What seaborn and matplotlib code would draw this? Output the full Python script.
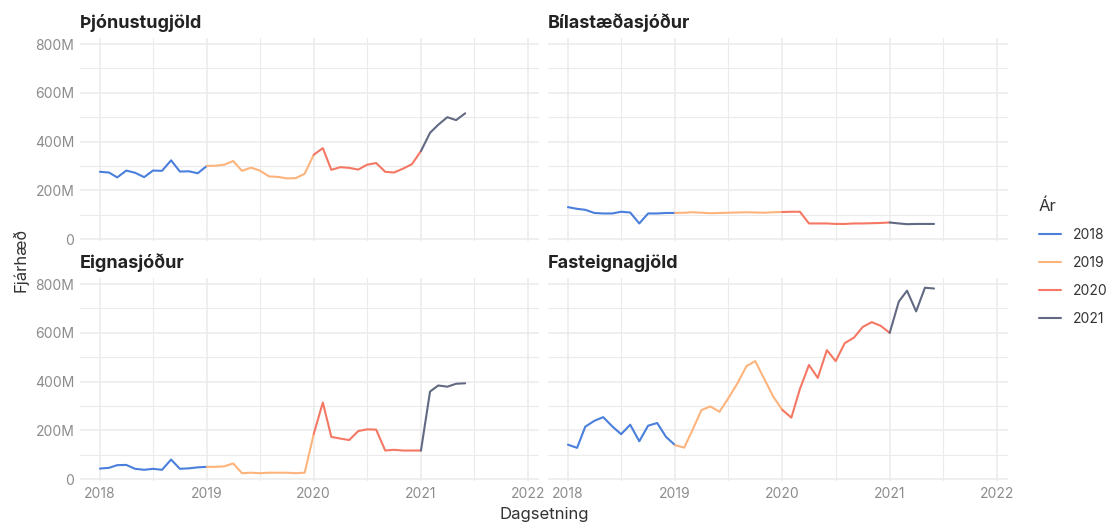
import matplotlib
matplotlib.use("Agg")
import matplotlib.pyplot as plt
import matplotlib.dates as mdates
from matplotlib.ticker import FuncFormatter, MultipleLocator
from matplotlib.lines import Line2D
import seaborn as sns
import pandas as pd
import numpy as np

# ---------------- data (millions ISK) ----------------
months = pd.date_range("2018-01-01", "2021-06-01", freq="MS")

thjonustugjold = [276, 273, 253, 281, 272, 254, 281, 280, 323, 277, 278, 270,
                  300, 301, 305, 320, 280, 293, 281, 257, 255, 249, 250, 268,
                  346, 373, 284, 295, 292, 285, 305, 312, 276, 273, 289, 307,
                  361, 436, 469, 500, 488, 516]
bilastaedasjodur = [131, 124, 120, 107, 105, 105, 112, 109, 64, 105, 105, 107,
                    107, 108, 110, 108, 106, 107, 108, 109, 110, 109, 108, 110,
                    111, 112, 112, 64, 64, 64, 62, 62, 64, 64, 65, 66,
                    68, 64, 61, 62, 62, 62]
eignasjodur = [43, 46, 57, 58, 42, 38, 42, 38, 80, 42, 44, 48,
               50, 50, 52, 64, 24, 26, 24, 26, 26, 26, 24, 26,
               185, 314, 173, 166, 160, 197, 204, 203, 117, 120, 117, 117,
               117, 359, 384, 379, 391, 393]
fasteignagjold = [141, 128, 215, 239, 254, 216, 184, 223, 155, 219, 230, 173,
                  139, 129, 201, 283, 298, 276, 331, 392, 463, 484, 410, 339,
                  284, 252, 369, 468, 415, 529, 484, 558, 580, 624, 644, 629,
                  600, 728, 773, 688, 785, 782]

categories = ["Þjónustugjöld", "Bílastæðasjóður", "Eignasjóður", "Fasteignagjöld"]
series = [thjonustugjold, bilastaedasjodur, eignasjodur, fasteignagjold]
years = [2018, 2019, 2020, 2021]
colors = ["#4A7FDB", "#FDB47C", "#F47864", "#626983"]

# Build long table; each year's segment also carries January of the next year
rows = []
for cat, vals in zip(categories, series):
    for d, v in zip(months, vals):
        rows.append((cat, d, v, d.year))
        if d.month == 1 and d.year - 1 in years:
            rows.append((cat, d, v, d.year - 1))
df = pd.DataFrame(rows, columns=["Flokkur", "Dagsetning", "Fjárhæð", "Ár"])
df["Ár"] = df["Ár"].astype(str)

# ---------------- style ----------------
sns.set_theme(style="white")
plt.rcParams["font.family"] = ["Inter", "DejaVu Sans"]

W, H = 1108, 525
fig = plt.figure(figsize=(W / 100, H / 100), dpi=100)

def box(x0, y0, x1, y1):
    return [x0 / W, 1 - y1 / H, (x1 - x0) / W, (y1 - y0) / H]

boxes = [box(80, 38, 539, 241), box(548, 38, 1008, 241),
         box(80, 278, 539, 481), box(548, 278, 1008, 481)]

palette = {str(y): c for y, c in zip(years, colors)}
grid_c = "#EBEBEB"
tick_c = "#8C8C8C"
xmin = pd.Timestamp("2018-01-01") - pd.Timedelta(days=68)
xmax = pd.Timestamp("2022-01-01") + pd.Timedelta(days=38)

for i, (cat, b) in enumerate(zip(categories, boxes)):
    ax = fig.add_axes(b)
    sub = df[df["Flokkur"] == cat]
    sns.lineplot(data=sub, x="Dagsetning", y="Fjárhæð", hue="Ár",
                 palette=palette, estimator=None, linewidth=1.5,
                 ax=ax, legend=False)
    ax.set_xlim(xmin, xmax)
    ax.set_ylim(-8, 825)
    ax.yaxis.set_major_locator(MultipleLocator(200))
    ax.yaxis.set_minor_locator(MultipleLocator(100))
    ax.yaxis.set_major_formatter(FuncFormatter(lambda v, p: "0" if v == 0 else f"{int(v)}M"))
    ax.xaxis.set_major_locator(mdates.YearLocator())
    ax.xaxis.set_minor_locator(mdates.MonthLocator(bymonth=7))
    ax.xaxis.set_major_formatter(mdates.DateFormatter("%Y"))
    ax.grid(which="major", color=grid_c, linewidth=1.1)
    ax.grid(which="minor", color=grid_c, linewidth=0.8)
    ax.set_axisbelow(True)
    for s in ax.spines.values():
        s.set_visible(False)
    ax.tick_params(axis="both", which="both", length=0, colors=tick_c,
                   labelsize=10, pad=4)
    ax.set_xlabel("")
    ax.set_ylabel("")
    if i % 2 == 1:
        ax.tick_params(axis="y", labelleft=False)
    if i < 2:
        ax.tick_params(axis="x", labelbottom=False)
    ax.set_title(cat, loc="left", fontsize=13, fontweight="bold",
                 color="#222222", pad=7)

fig.text(544 / W, 1 - 515 / H, "Dagsetning", ha="center", va="center",
         fontsize=12, color="#333333")
fig.text(20 / W, 1 - 260 / H, "Fjárhæð", ha="center", va="center",
         rotation=90, fontsize=12, color="#333333")

handles = [Line2D([0], [0], color=c, linewidth=1.5) for c in colors]
leg = fig.legend(handles, [str(y) for y in years], title="Ár",
                 loc="upper left", bbox_to_anchor=(1026 / W, 1 - 186 / H),
                 frameon=False, fontsize=10, title_fontsize=12,
                 handlelength=1.65, labelspacing=1.0, handletextpad=0.85,
                 alignment="left")
for t in leg.get_texts():
    t.set_color("#333333")
leg.get_title().set_color("#333333")

fig.savefig("out.png", dpi=100)
